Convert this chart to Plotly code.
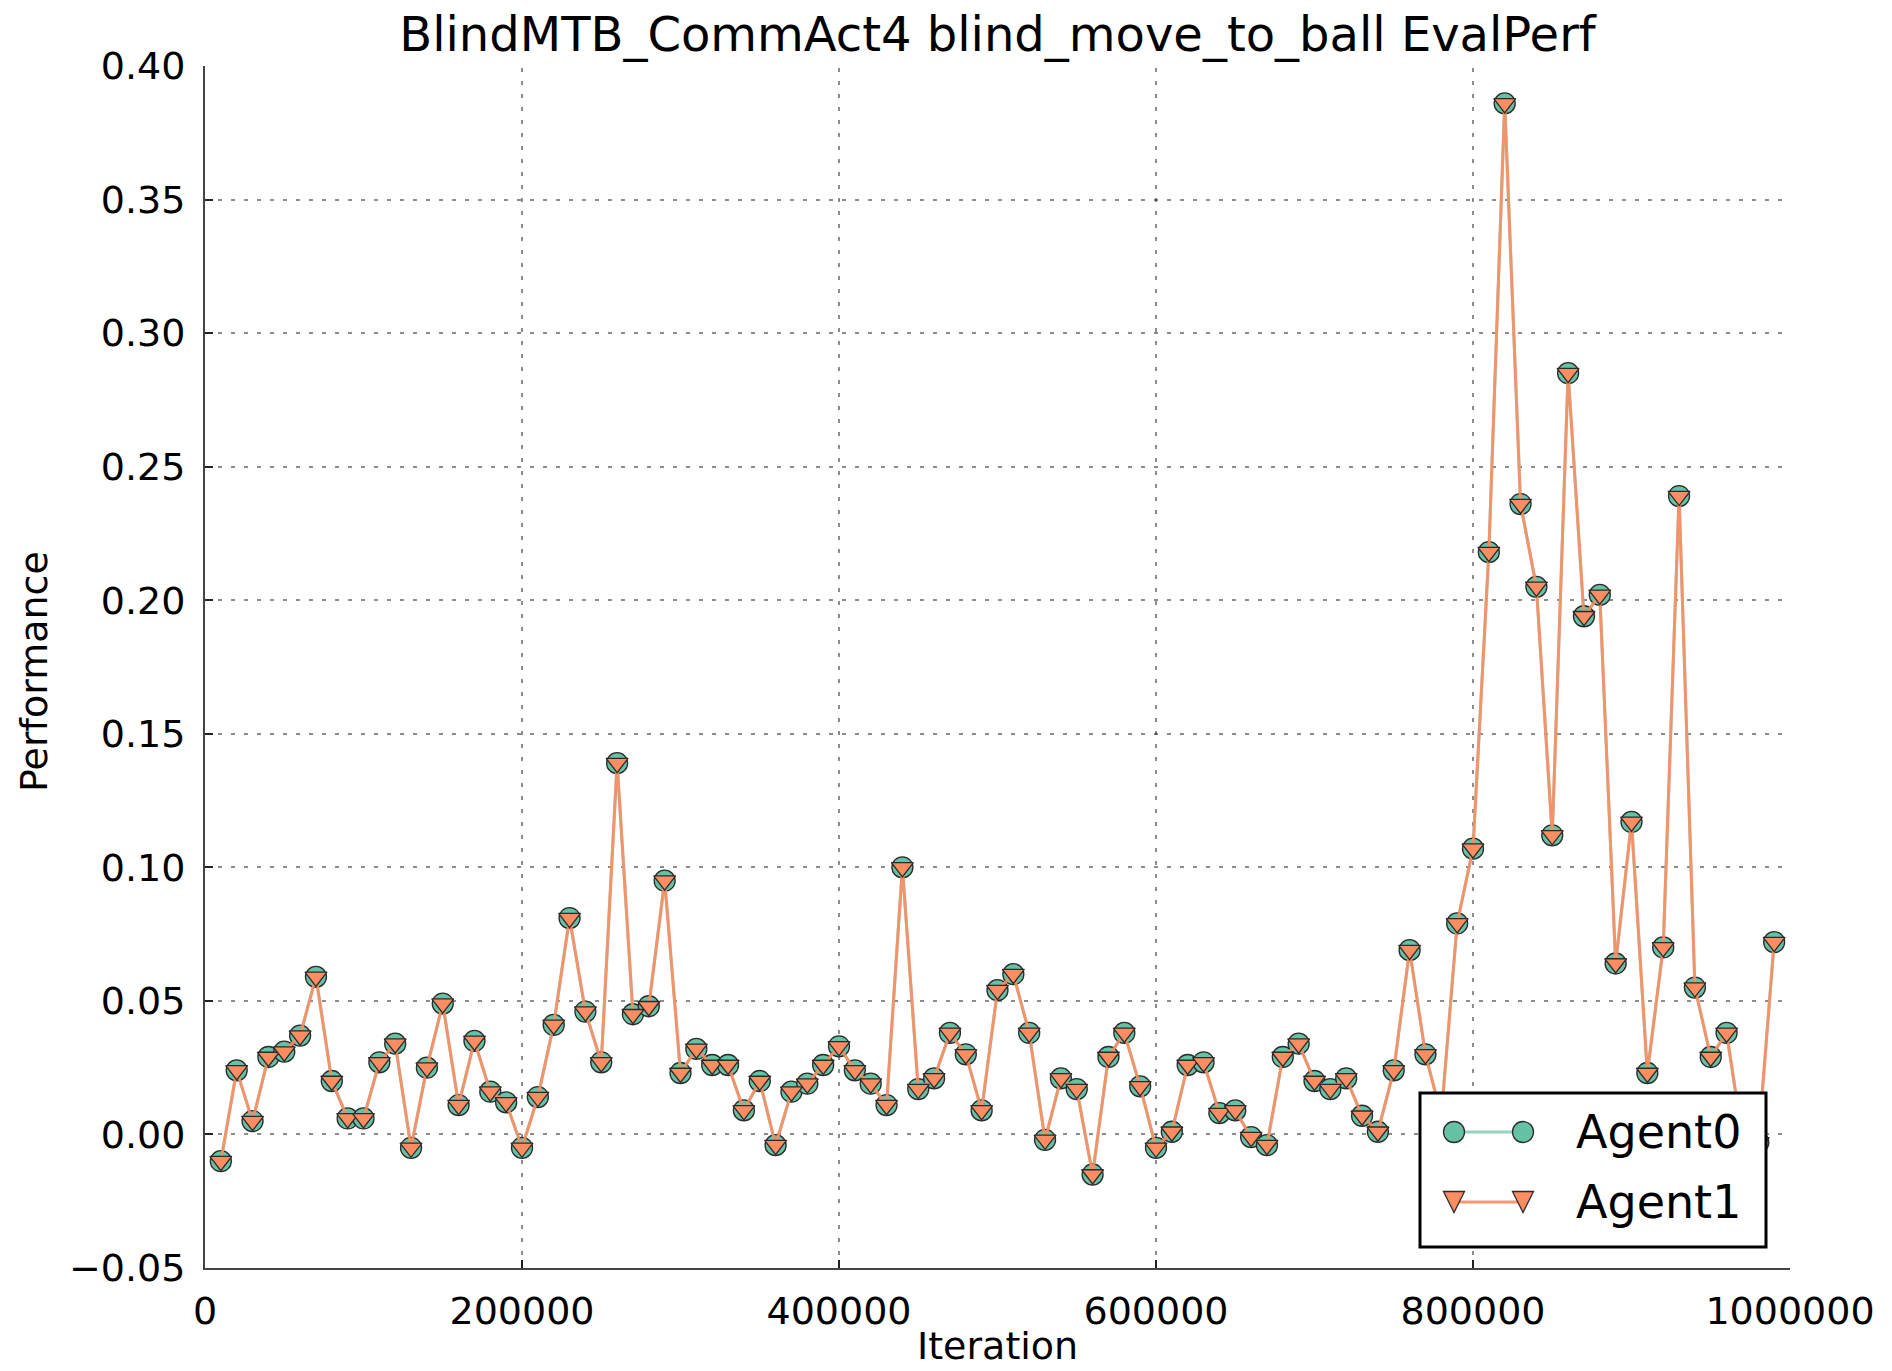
import plotly.graph_objects as go

# Evaluation checkpoints (training iterations)
iterations = [
    10000, 20000, 30000, 40000, 50000, 60000, 70000, 80000, 90000, 100000,
    110000, 120000, 130000, 140000, 150000, 160000, 170000, 180000, 190000, 200000,
    210000, 220000, 230000, 240000, 250000, 260000, 270000, 280000, 290000, 300000,
    310000, 320000, 330000, 340000, 350000, 360000, 370000, 380000, 390000, 400000,
    410000, 420000, 430000, 440000, 450000, 460000, 470000, 480000, 490000, 500000,
    510000, 520000, 530000, 540000, 550000, 560000, 570000, 580000, 590000, 600000,
    610000, 620000, 630000, 640000, 650000, 660000, 670000, 680000, 690000, 700000,
    710000, 720000, 730000, 740000, 750000, 760000, 770000, 780000, 790000, 800000,
    810000, 820000, 830000, 840000, 850000, 860000, 870000, 880000, 890000, 900000,
    910000, 920000, 930000, 940000, 950000, 960000, 970000, 980000, 990000,
]

# Shared evaluation performance of the blind move-to-ball task
agent0_perf = [
    -0.010, 0.024, 0.005, 0.029, 0.031, 0.037, 0.059, 0.020, 0.006, 0.006,
    0.027, 0.034, -0.005, 0.025, 0.049, 0.011, 0.035, 0.016, 0.012, -0.005,
    0.014, 0.041, 0.081, 0.046, 0.027, 0.139, 0.045, 0.048, 0.095, 0.023,
    0.032, 0.026, 0.026, 0.009, 0.020, -0.004, 0.016, 0.019, 0.026, 0.033,
    0.024, 0.019, 0.011, 0.100, 0.017, 0.021, 0.038, 0.030, 0.009, 0.054,
    0.060, 0.038, -0.002, 0.021, 0.017, -0.015, 0.029, 0.038, 0.018, -0.005,
    0.001, 0.026, 0.027, 0.008, 0.009, -0.001, -0.004, 0.029, 0.034, 0.020,
    0.017, 0.021, 0.007, 0.001, 0.024, 0.069, 0.030, 0.007, 0.079, 0.107,
    0.218, 0.386, 0.236, 0.205, 0.112, 0.285, 0.194, 0.202, 0.064, 0.117,
    0.023, 0.070, 0.239, 0.055, 0.029, 0.038, -0.001, -0.003, 0.072,
]
# Both agents receive the same team reward, so their curves coincide
agent1_perf = list(agent0_perf)

series_names = ["Agent0", "Agent1"]
x_ticks = [0, 200000, 400000, 600000, 800000, 1000000]
x_grid = [200000, 400000, 600000, 800000]
y_ticks = [-0.05, 0.00, 0.05, 0.10, 0.15, 0.20, 0.25, 0.30, 0.35, 0.40]

FONT = "DejaVu Sans"
GRID_COLOR = "rgba(0,0,0,0.45)"
GRID_DASH = "4px,9px"
EDGE = "#2b2b2b"
TEAL, TEAL_LINE = "#66c2a5", "rgba(102,194,165,0.7)"
ORANGE, ORANGE_LINE = "#fc8d62", "rgba(252,141,98,0.9)"

# plot-area box in pixels
W, H = 1892, 1371
PL, PR, PT, PB = 205, 1790, 66, 1268


def px_x(x):
    return (x - PL) / (PR - PL)


def px_y(y):
    return (PB - y) / (PB - PT)


fig = go.Figure()

fig.add_trace(go.Scatter(
    x=iterations, y=agent0_perf, name=series_names[0],
    mode="lines+markers",
    line=dict(color=TEAL_LINE, width=3),
    marker=dict(symbol="circle", size=21, color=TEAL,
                line=dict(color=EDGE, width=1.3)),
    cliponaxis=False,
))
fig.add_trace(go.Scatter(
    x=iterations, y=agent1_perf, name=series_names[1],
    mode="lines+markers",
    line=dict(color=ORANGE_LINE, width=3),
    marker=dict(symbol="triangle-down", size=19, color=ORANGE,
                line=dict(color=EDGE, width=1.3)),
    cliponaxis=False,
))

shapes = []
# vertical dotted grid lines (none at the right edge)
for gx in x_grid:
    shapes.append(dict(type="line", xref="x", yref="y domain",
                       x0=gx, x1=gx, y0=0, y1=1, layer="below",
                       line=dict(color=GRID_COLOR, width=2, dash=GRID_DASH)))

# legend box in the lower-right corner, with two-point handles
shapes.append(dict(type="rect", xref="paper", yref="paper", layer="above",
                   x0=px_x(1420), x1=px_x(1766), y0=px_y(1247), y1=px_y(1093),
                   fillcolor="white", line=dict(color="black", width=3)))
row_y = [1132, 1202]
handle_x = [1454, 1523]
R = 10.5
annotations = []
for i, (ry, name) in enumerate(zip(row_y, series_names)):
    line_col = TEAL_LINE if i == 0 else ORANGE_LINE
    shapes.append(dict(type="line", xref="paper", yref="paper", layer="above",
                       x0=px_x(handle_x[0]), x1=px_x(handle_x[1]),
                       y0=px_y(ry), y1=px_y(ry),
                       line=dict(color=line_col, width=3)))
    for hx in handle_x:
        if i == 0:
            shapes.append(dict(type="circle", xref="paper", yref="paper",
                               layer="above", xsizemode="pixel", ysizemode="pixel",
                               xanchor=px_x(hx), yanchor=px_y(ry),
                               x0=-R, x1=R, y0=-R, y1=R,
                               fillcolor=TEAL, line=dict(color=EDGE, width=1.3)))
        else:
            shapes.append(dict(type="path", xref="paper", yref="paper",
                               layer="above", xsizemode="pixel", ysizemode="pixel",
                               xanchor=px_x(hx), yanchor=px_y(ry),
                               path=f"M {-R} {R} L {R} {R} L 0 {-R} Z",
                               fillcolor=ORANGE, line=dict(color=EDGE, width=1.3)))
    annotations.append(dict(text=name, xref="paper", yref="paper",
                            x=px_x(1574), y=px_y(ry), xanchor="left", yanchor="middle",
                            showarrow=False,
                            font=dict(family=FONT, size=46, color="black")))

annotations += [
    dict(text="Iteration", xref="paper", yref="paper",
         x=0.5, y=px_y(1370), xanchor="center", yanchor="bottom",
         showarrow=False, font=dict(family=FONT, size=38, color="black")),
    dict(text="Performance", xref="paper", yref="paper",
         x=px_x(34), y=px_y(672),
         xanchor="center", yanchor="middle", textangle=-90,
         showarrow=False, font=dict(family=FONT, size=38, color="black")),
]

fig.update_layout(
    width=W, height=H,
    margin=dict(l=PL, r=W - PR, t=PT, b=H - PB),
    paper_bgcolor="white", plot_bgcolor="white",
    font=dict(family=FONT, size=38, color="black"),
    title=dict(text="BlindMTB_CommAct4 blind_move_to_ball EvalPerf",
               x=0.5, xref="paper", xanchor="center",
               y=1 - 34 / H, yref="container", yanchor="middle",
               font=dict(family=FONT, size=48, color="black")),
    showlegend=False,
    xaxis=dict(range=[0, 1000000], tickmode="array", tickvals=x_ticks,
               ticktext=[str(v) for v in x_ticks],
               showgrid=False, zeroline=False,
               showline=True, linecolor="#444", linewidth=2,
               ticks="inside", ticklen=8, tickwidth=1.5, tickcolor="#222",
               ticklabelstandoff=8,
               tickfont=dict(family=FONT, size=38, color="black")),
    yaxis=dict(range=[-0.05, 0.40], tickmode="array", tickvals=y_ticks,
               tickformat=".2f",
               showgrid=True, gridcolor=GRID_COLOR, gridwidth=2,
               griddash=GRID_DASH, zeroline=False,
               showline=True, linecolor="#444", linewidth=2,
               ticks="inside", ticklen=8, tickwidth=1.5, tickcolor="#222",
               ticklabelstandoff=10,
               tickfont=dict(family=FONT, size=38, color="black")),
    shapes=shapes,
    annotations=annotations,
)

fig.write_html("out.html")
